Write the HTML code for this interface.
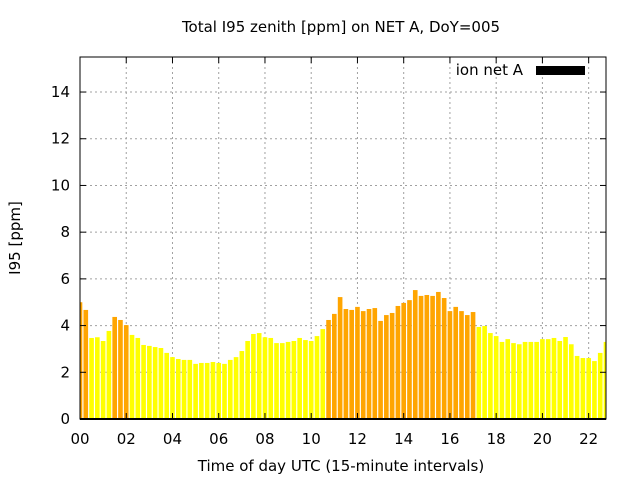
<!DOCTYPE html>
<html><head><meta charset="utf-8"><style>
body{margin:0;background:#fff}
svg{display:block;font-family:"DejaVu Sans","Liberation Sans",sans-serif}
</style></head><body>
<svg id="chart" width="640" height="480" xmlns="http://www.w3.org/2000/svg">
<rect width="640" height="480" fill="#fff"/>
<text x="341" y="32" font-size="15" text-anchor="middle">Total I95 zenith [ppm] on NET A, DoY=005</text>
<text x="0" y="0" font-size="15" text-anchor="middle" transform="translate(20,238) rotate(-90)">I95 [ppm]</text>
<text x="341" y="471" font-size="15" text-anchor="middle">Time of day UTC (15-minute intervals)</text>
<g id="grid"></g>
<g id="bars"></g>
<g id="axes"></g>
<g>
<text x="523" y="75" font-size="15" text-anchor="end">ion net A</text>
<rect x="536" y="66" width="49" height="9" fill="#000"/>
</g>
</svg>
<script>
const values=[5.0,4.67,3.47,3.5,3.34,3.77,4.37,4.24,4.02,3.6,3.47,3.17,3.13,3.08,3.04,2.83,2.65,2.57,2.53,2.53,2.36,2.4,2.4,2.44,2.4,2.36,2.53,2.65,2.91,3.34,3.64,3.68,3.5,3.47,3.25,3.25,3.3,3.34,3.47,3.38,3.34,3.55,3.85,4.24,4.5,5.22,4.71,4.67,4.8,4.62,4.71,4.75,4.2,4.45,4.54,4.84,4.97,5.09,5.52,5.27,5.31,5.27,5.44,5.18,4.62,4.8,4.62,4.45,4.58,3.94,3.98,3.68,3.55,3.3,3.42,3.25,3.2,3.3,3.3,3.3,3.42,3.42,3.47,3.34,3.51,3.2,2.7,2.61,2.61,2.48,2.83,3.3];
const xTicks=[0,2,4,6,8,10,12,14,16,18,20,22];
const xTickLabels=["00","02","04","06","08","10","12","14","16","18","20","22"];
const yTicks=[0,2,4,6,8,10,12,14];
const threshold=[4];
const NS="http://www.w3.org/2000/svg";
const L=80,R=606,T=57,B=419,XMAX=22.75,YMAX=15.5;
const xs=h=>L+h/XMAX*(R-L);
const ys=v=>B-v/YMAX*(B-T);
function mk(tag,attrs,parent){const e=document.createElementNS(NS,tag);for(const k in attrs)e.setAttribute(k,attrs[k]);parent.appendChild(e);return e;}
const grid=document.getElementById('grid'),bars=document.getElementById('bars'),axes=document.getElementById('axes');
yTicks.forEach(v=>{if(v>0){const g=mk('line',{x1:L,x2:R,y1:ys(v),y2:ys(v),stroke:'#a0a0a0','stroke-dasharray':'2,3'},grid);

}
const t=mk('text',{x:L-10,y:ys(v)+5,'font-size':15,'text-anchor':'end'},axes);t.textContent=v;


mk('line',{x1:L,x2:L+6,y1:ys(v),y2:ys(v),stroke:'#000'},axes);mk('line',{x1:R-6,x2:R,y1:ys(v),y2:ys(v),stroke:'#000'},axes);});
xTicks.forEach((h,i)=>{const x=xs(h);if(h>0){const g=mk('line',{x1:x,x2:x,y1:T,y2:B,stroke:'#a0a0a0','stroke-dasharray':'2,3'},grid);

}
const t=mk('text',{x:x,y:B+25,'font-size':15,'text-anchor':'middle'},axes);t.textContent=xTickLabels[i];


mk('line',{x1:x,x2:x,y1:B,y2:B-6,stroke:'#000'},axes);mk('line',{x1:x,x2:x,y1:T,y2:T+6,stroke:'#000'},axes);});
const bw=(R-L)/(XMAX*4)*0.8;
values.forEach((v,i)=>{const h=i*0.25;const cx=xs(h);let x1=Math.max(L,cx-bw/2),x2=Math.min(R,cx+bw/2);
const r=mk('rect',{x:x1,y:ys(v),width:Math.max(0,x2-x1),height:B-ys(v),fill:v>=threshold[0]?'#ffa500':'#ffff00'},bars);

});
const f=mk('rect',{x:L,y:T,width:R-L,height:B-T,fill:'none',stroke:'#000','stroke-width':1},axes);


mk('line',{x1:L,x2:R,y1:B,y2:B,stroke:'#000','stroke-width':2},axes);
</script>
</body></html>
